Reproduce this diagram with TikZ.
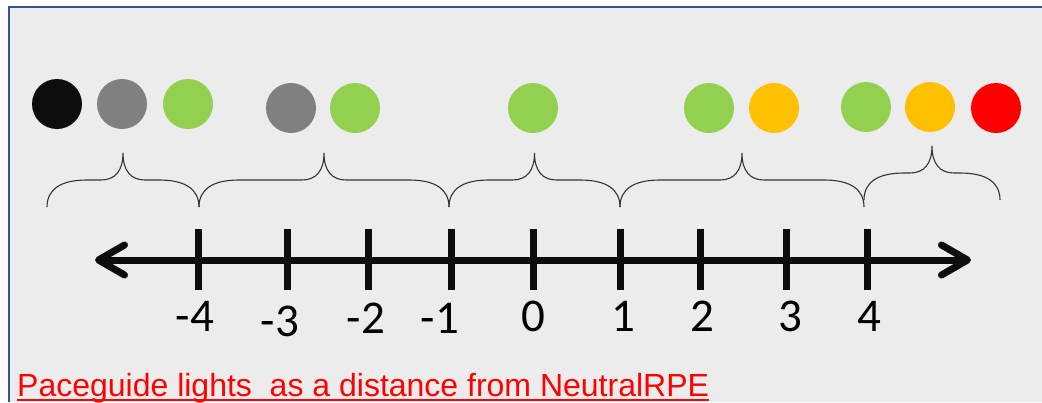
\documentclass[tikz,border=0pt]{standalone}
\usepackage{fontspec}
\setmainfont{Carlito}
\newfontfamily\captionfont{Liberation Sans}
\usetikzlibrary{arrows.meta}
\definecolor{lightgreen}{HTML}{92D050}
\definecolor{amber}{HTML}{FFC000}
\definecolor{panelgray}{HTML}{ECECEC}
\definecolor{frameblue}{HTML}{2F5597}
\definecolor{nearblack}{HTML}{0D0D0D}
\tikzset{
  light/.style={circle, minimum size=50pt, inner sep=0pt},
  tickmark/.style={line width=7pt, draw=nearblack},
  numline/.style={line width=7pt, draw=nearblack,
    {Straight Barb[length=26pt,width=30pt,round]}-{Straight Barb[length=26pt,width=30pt,round]}},
  curlyline/.style={draw=black!80, line width=1.1pt},
  numlabel/.style={font=\fontsize{47}{50}\selectfont, inner sep=0pt},
}
\begin{document}
\begin{tikzpicture}[x=1pt, y=-1pt]
        \useasboundingbox (0,0) rectangle (1042,402);
        % panel
        \fill[panelgray] (9,7) rectangle (1042,402);
        \draw[frameblue, line width=2pt] (9,402) -- (9,7) -- (1042,7);
        % lights
        \foreach \x/\y/\c [count=\i] in {57/104/nearblack, 122/104/gray,
        188/104/lightgreen, 291/108/gray, 355/108/lightgreen,
        533/108/lightgreen, 709/108/lightgreen, 774/108/amber,
        866/107/lightgreen, 930/107/amber, 996/108/red}
        \node[light, fill=\c] (light\i) at (\x,\y) {};
        % braces
        \foreach \a/\b/\yb in {47/199/207, 199/449/207, 449/620/207,
        620/864/207, 864/1000/200}
        {
        \pgfmathsetmacro\m{(\a+\b)/2}
        \draw[curlyline] (\a,\yb) .. controls (\a,\yb-18) and (\a+14,\yb-27)
        .. (\a+40,\yb-27) -- (\m-22,\yb-27) .. controls (\m-8,\yb-27) and
        (\m,\yb-36) .. (\m,\yb-54) .. controls (\m,\yb-36) and (\m+8,\yb-27)
        .. (\m+22,\yb-27) -- (\b-40,\yb-27) .. controls (\b-14,\yb-27) and
        (\b,\yb-18) .. (\b,\yb);
        }
        % number line
        \coordinate (lend) at (95,260);
        \coordinate (rend) at (971,260);
        \draw[numline] (lend) -- (rend);
        \foreach \x/\lx/\ly/\lab [count=\i] in {198/195/316/-4, 287/280/321/-3,
        368/366/318/-2, 451/440/318/-1, 533/533/316/0, 620/623/316/1,
        700/702/316/2, 786/790/316/3, 867/869/316/4}
        {
        \coordinate (top\i) at (\x,229);
        \coordinate (bot\i) at (\x,290);
        \draw[tickmark] (top\i) -- (bot\i);
        \node[numlabel] (lab\i) at (\lx,\ly) {\lab};
        }
        % caption
        \node[anchor=base west, inner sep=0pt, text=red,
        font=\captionfont\fontsize{32}{34}\selectfont] (caption) at (17,396)
        {Paceguide lights\ \ as a distance from NeutralRPE};
        \draw[red, line width=1.6pt] ([yshift=-4pt]caption.base west) --
        ([yshift=-4pt]caption.base east);
\end{tikzpicture}
\end{document}
